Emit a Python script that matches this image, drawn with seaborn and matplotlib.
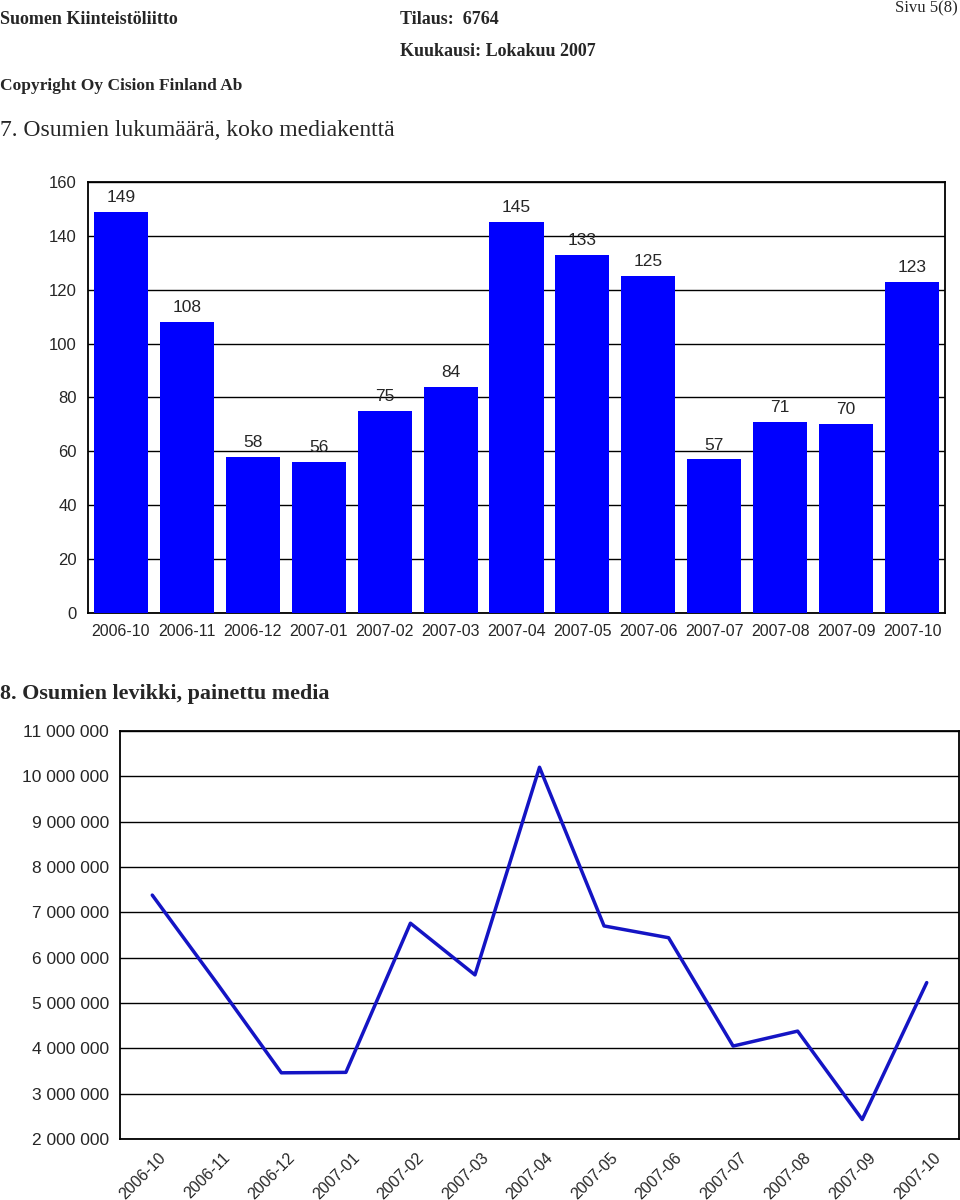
import matplotlib
matplotlib.use('Agg')
import matplotlib.pyplot as plt
from matplotlib.ticker import FuncFormatter
from matplotlib.transforms import ScaledTranslation
import seaborn as sns
import pandas as pd

# data
months = ['2006-10', '2006-11', '2006-12', '2007-01', '2007-02', '2007-03', '2007-04',
          '2007-05', '2007-06', '2007-07', '2007-08', '2007-09', '2007-10']
hits = [149, 108, 58, 56, 75, 84, 145, 133, 125, 57, 71, 70, 123]
reach = [7380000, 5440000, 3460000, 3470000, 6760000, 5620000, 10200000,
         6700000, 6440000, 4050000, 4380000, 2430000, 5450000]

sns.set_style('white')
plt.rcParams['font.family'] = ['Liberation Sans', 'DejaVu Sans']

fig = plt.figure(figsize=(9.6, 12), dpi=100)
serif = ['Liberation Serif', 'DejaVu Serif']

# header
fig.text(0.0, 1 - 20 / 1200, 'Suomen Kiinteistöliitto', family=serif, weight='bold', fontsize=13, va='center')
fig.text(400 / 960, 1 - 20 / 1200, 'Tilaus:  6764', family=serif, weight='bold', fontsize=13, va='center')
fig.text(400 / 960, 1 - 52 / 1200, 'Kuukausi: Lokakuu 2007', family=serif, weight='bold', fontsize=13, va='center')
fig.text(0.0, 1 - 86 / 1200, 'Copyright Oy Cision Finland Ab', family=serif, weight='bold', fontsize=12.5, va='center')
fig.text(958 / 960, 1 - 8 / 1200, 'Sivu 5(8)', family=serif, fontsize=12, va='center', ha='right')
fig.text(0.0, 1 - 131 / 1200, '7. Osumien lukumäärä, koko mediakenttä', family=serif, fontsize=17, va='center')
fig.text(0.0, 1 - 694 / 1200, '8. Osumien levikki, painettu media', family=serif, weight='bold', fontsize=15.8, va='center')

# chart 7: bars
df1 = pd.DataFrame({'kk': months, 'osumat': hits})
ax1 = fig.add_axes([88 / 960, 1 - 613 / 1200, (945 - 88) / 960, (613 - 182) / 1200])
sns.barplot(data=df1, x='kk', y='osumat', color='#0000FF', saturation=1, width=0.82,
            edgecolor='none', ax=ax1, zorder=3)
ax1.set_ylim(0, 160)
ax1.set_yticks(range(0, 161, 20))
ax1.set_xlim(-0.5, len(months) - 0.5)
ax1.grid(axis='y', color='black', linewidth=1, zorder=0)
ax1.set_axisbelow(True)
ax1.bar_label(ax1.containers[0], padding=5, fontsize=12.5)
ax1.set_xlabel('')
ax1.set_ylabel('')
ax1.tick_params(length=0, labelsize=12, pad=8)
ax1.tick_params(axis='x', labelsize=11.5)
for s in ax1.spines.values():
    s.set_color('black')
    s.set_linewidth(1.3)

# chart 8: line
df2 = pd.DataFrame({'kk': months, 'levikki': reach})
ax2 = fig.add_axes([120 / 960, 1 - 1139 / 1200, (959 - 120) / 960, (1139 - 731) / 1200])
sns.lineplot(data=df2, x='kk', y='levikki', color='#1414C4', linewidth=2.5, ax=ax2, zorder=3)
ax2.set_ylim(2000000, 11000000)
ax2.set_yticks(range(2000000, 11000001, 1000000))
ax2.yaxis.set_major_formatter(FuncFormatter(lambda v, p: f'{int(v):,}'.replace(',', ' ')))
ax2.set_xlim(-0.5, len(months) - 0.5)
ax2.grid(axis='y', color='black', linewidth=1, zorder=0)
ax2.set_xlabel('')
ax2.set_ylabel('')
ax2.tick_params(length=0, labelsize=12.5, pad=8)
ax2.tick_params(axis='x', labelsize=11.5)
shift = ScaledTranslation(6 / 100, 0, fig.dpi_scale_trans)
for lab in ax2.get_xticklabels():
    lab.set_rotation(45)
    lab.set_ha('right')
    lab.set_rotation_mode('anchor')
    lab.set_transform(lab.get_transform() + shift)
for s in ax2.spines.values():
    s.set_color('black')
    s.set_linewidth(1.3)

fig.savefig('out.png', dpi=100)
